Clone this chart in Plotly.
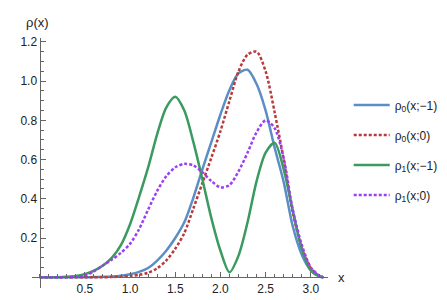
import plotly.graph_objects as go

x_vals = [0.0, 0.1, 0.2, 0.3, 0.4, 0.5, 0.6, 0.7, 0.8, 0.9, 1.0, 1.1, 1.2, 1.3, 1.4, 1.5,
          1.6, 1.7, 1.8, 1.9, 2.0, 2.1, 2.2, 2.3, 2.4, 2.5, 2.6, 2.7, 2.8, 2.9, 3.0, 3.1, 3.14]

rho0_m1 = [0, 0, 0, 0, 0, 0, 0.001, 0.002, 0.004, 0.008, 0.015, 0.027, 0.047, 0.085, 0.135, 0.20,
           0.28, 0.405, 0.55, 0.69, 0.83, 0.955, 1.04, 1.058, 0.985, 0.85, 0.66, 0.485, 0.26, 0.115,
           0.035, 0.003, 0]
rho0_0 = [0, 0, 0, 0, 0, 0, 0, 0, 0.001, 0.003, 0.006, 0.012, 0.023, 0.045, 0.085, 0.145,
          0.225, 0.35, 0.48, 0.61, 0.745, 0.90, 1.05, 1.135, 1.15, 1.05, 0.84, 0.60, 0.33, 0.15,
          0.045, 0.005, 0]
rho1_m1 = [0, 0, 0, 0.002, 0.006, 0.016, 0.033, 0.06, 0.10, 0.165, 0.27, 0.41, 0.56, 0.73, 0.865,
           0.92, 0.85, 0.69, 0.50, 0.30, 0.135, 0.025, 0.11, 0.28, 0.49, 0.635, 0.685, 0.55, 0.34,
           0.145, 0.035, 0.003, 0]
rho1_0 = [0, 0, 0, 0, 0.002, 0.008, 0.03, 0.06, 0.09, 0.125, 0.17, 0.245, 0.345, 0.44, 0.515,
          0.56, 0.578, 0.57, 0.535, 0.49, 0.458, 0.47, 0.54, 0.635, 0.74, 0.80, 0.76, 0.606, 0.345,
          0.165, 0.05, 0.006, 0]

series = [
    ("ρ<sub>0</sub>(x;−1)", rho0_m1, "#5b8ec4", "solid"),
    ("ρ<sub>0</sub>(x;0)", rho0_0, "#b83a3a", "3px,2px"),
    ("ρ<sub>1</sub>(x;−1)", rho1_m1, "#3a9a60", "solid"),
    ("ρ<sub>1</sub>(x;0)", rho1_0, "#9a40f0", "3px,2px"),
]

x_ticks = [0.5, 1.0, 1.5, 2.0, 2.5, 3.0]
x_tick_text = ["0.5", "1.0", "1.5", "2.0", "2.5", "3.0"]
y_ticks = [0.2, 0.4, 0.6, 0.8, 1.0, 1.2]
y_tick_text = ["0.2", "0.4", "0.6", "0.8", "1.0", "1.2"]

x_range = [-0.085, 3.19]
y_range = [-0.055, 1.22]

fig = go.Figure()
for i, (name, vals, color, dash) in enumerate(series):
    fig.add_trace(go.Scatter(
        x=x_vals, y=vals, mode="lines", name=name, legendgroup=f"g{i}",
        line=dict(color=color, width=2.5, dash=dash, shape="spline", smoothing=0.8),
    ))

axis_color = "#666666"
font_main = dict(family="Liberation Sans, Arial, sans-serif", size=12, color="#222222")

fig.update_layout(
    width=447, height=300,
    margin=dict(l=15, r=124, t=30, b=17),
    paper_bgcolor="white", plot_bgcolor="white",
    font=font_main,
    showlegend=True,
    legend=dict(x=1.07, y=0.79, xanchor="left", yanchor="top",
                tracegroupgap=11, itemwidth=36, font=dict(size=12, color="#222222"),
                bgcolor="rgba(0,0,0,0)", traceorder="grouped"),
    xaxis=dict(range=x_range, anchor="free",
               position=(0 - y_range[0]) / (y_range[1] - y_range[0]),
               showline=True, linecolor=axis_color, linewidth=1.3,
               showgrid=False, zeroline=False,
               tickmode="array", tickvals=x_ticks, ticktext=x_tick_text,
               ticks="inside", ticklen=5, tickcolor=axis_color, tickwidth=1,
               minor=dict(tickmode="linear", tick0=0, dtick=0.1, ticks="inside",
                          ticklen=3, tickcolor=axis_color, showgrid=False),
               tickfont=dict(size=12, color="#222222")),
    yaxis=dict(range=y_range, anchor="free",
               position=(0 - x_range[0]) / (x_range[1] - x_range[0]),
               showline=True, linecolor=axis_color, linewidth=1.3,
               showgrid=False, zeroline=False,
               tickmode="array", tickvals=y_ticks, ticktext=y_tick_text,
               ticks="inside", ticklen=5, tickcolor=axis_color, tickwidth=1,
               minor=dict(tickmode="linear", tick0=0, dtick=0.05, ticks="inside",
                          ticklen=3, tickcolor=axis_color, showgrid=False),
               tickfont=dict(size=12, color="#222222")),
    annotations=[
        dict(text="ρ(x)", x=0.0195, y=1.063, xref="paper", yref="paper", showarrow=False,
             xanchor="center", yanchor="middle", font=dict(size=13, color="#222222")),
        dict(text="x", x=1.045, y=0.0435, xref="paper", yref="paper", showarrow=False,
             xanchor="center", yanchor="middle", font=dict(size=13, color="#222222")),
    ],
)

fig.write_html("out.html")
